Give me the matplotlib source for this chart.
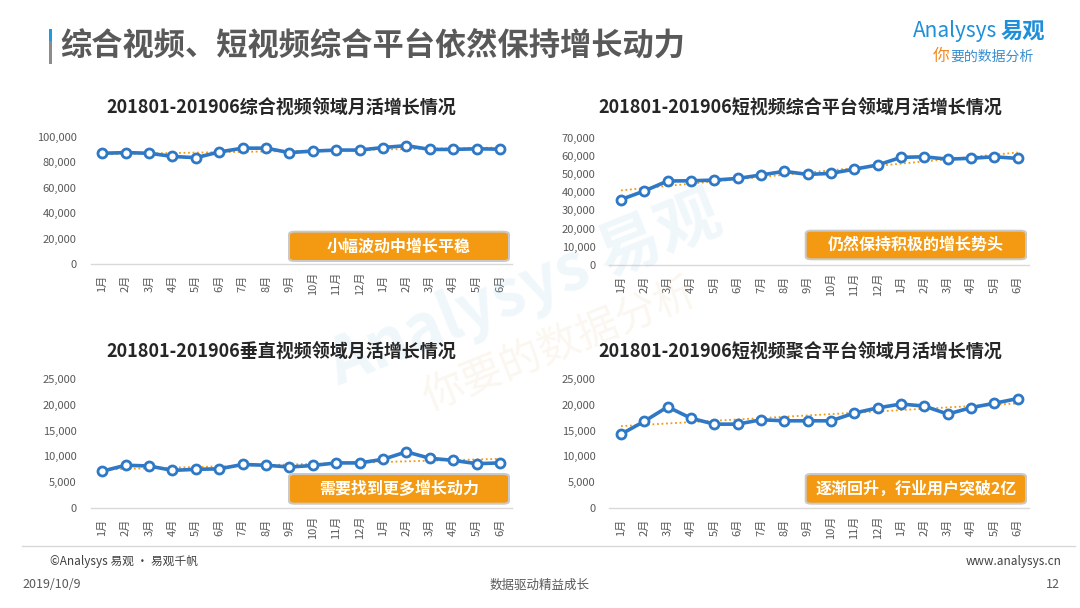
import numpy as np
import matplotlib
matplotlib.use("Agg")
import matplotlib.pyplot as plt
from matplotlib.patches import FancyBboxPatch
from matplotlib.ticker import FuncFormatter

plt.rcParams['font.family'] = ['Noto Sans CJK SC', 'DejaVu Sans']

# ---------------- data ----------------
months = ["1月", "2月", "3月", "4月", "5月", "6月", "7月", "8月", "9月", "10月", "11月", "12月",
          "1月", "2月", "3月", "4月", "5月", "6月"]

comprehensive = [87000, 87500, 87000, 84500, 83500, 88000, 91000, 91000, 87500, 88700,
                 89500, 89500, 91500, 93000, 90000, 90000, 90500, 90200]
short_comp = [36000, 40700, 46200, 46300, 46700, 47600, 49500, 51500, 49800, 50400,
              52700, 55000, 59200, 59500, 58200, 58700, 59500, 58600]
vertical = [7100, 8250, 8100, 7250, 7450, 7550, 8400, 8250, 7900, 8200,
            8700, 8700, 9400, 10850, 9600, 9200, 8550, 8700]
short_agg = [14300, 16800, 19600, 17400, 16250, 16250, 17100, 16900, 16900, 16900,
             18400, 19400, 20150, 19750, 18200, 19450, 20300, 21200]

titles = ["201801-201906综合视频领域月活增长情况",
          "201801-201906短视频综合平台领域月活增长情况",
          "201801-201906垂直视频领域月活增长情况",
          "201801-201906短视频聚合平台领域月活增长情况"]
notes = ["小幅波动中增长平稳", "仍然保持积极的增长势头", "需要找到更多增长动力", "逐渐回升，行业用户突破2亿"]
ymaxes = [100000, 70000, 25000, 25000]
ysteps = [20000, 10000, 5000, 5000]

W, H = 1080, 608
fig = plt.figure(figsize=(W / 100, H / 100), dpi=100)
fig.patch.set_facecolor("white")

def fx(x):
    return x / W

def fy(y):
    return 1 - y / H

BLUE = "#2E78C6"
ORANGE = "#F39A12"
GREY_TXT = "#595959"

# ---------------- watermark ----------------
fig.text(fx(525), fy(290), "Analysys 易观", fontsize=46, color="#9CCBEA", alpha=0.15,
         rotation=22, ha="center", va="center", fontweight="bold", zorder=0)
fig.text(fx(560), fy(345), "你要的数据分析", fontsize=30, color="#E8C89A", alpha=0.15,
         rotation=22, ha="center", va="center", zorder=0)

# ---------------- axes ----------------
boxes = [(90.6, 511.7, 136.7, 264.0),
         (609.3, 1029.4, 137.7, 265.0),
         (90.6, 511.7, 379.0, 507.7),
         (609.3, 1029.4, 379.0, 508.0)]
title_pos = [(281, 108), (800, 108), (281, 352), (800, 352)]
note_boxes = [(290, 508, 232.7, 260.0),
              (806.7, 1025, 231.7, 258.3),
              (290, 508, 475.0, 502.7),
              (806.7, 1025, 475.0, 502.7)]

series = [comprehensive, short_comp, vertical, short_agg]
fmt = FuncFormatter(lambda v, p: f"{int(v):,}")

for i in range(4):
    l, r, t, b = boxes[i]
    ax = fig.add_axes([fx(l), fy(b), (r - l) / W, (b - t) / H])
    ax.set_facecolor("none")
    vals = np.array(series[i], dtype=float)
    x = np.arange(len(vals))
    k, c = np.polyfit(x, vals, 1)
    ax.plot(x, k * x + c, linestyle=(0, (1, 1.5)), color=ORANGE, lw=1.3, zorder=2)
    ax.plot(x, vals, color=BLUE, lw=2.6, marker="o", markersize=6.5,
            markerfacecolor="white", markeredgecolor=BLUE, markeredgewidth=2.0, zorder=3)
    ax.set_xlim(-0.5, len(vals) - 0.5)
    ax.set_ylim(0, ymaxes[i])
    ax.set_yticks(np.arange(0, ymaxes[i] + 1, ysteps[i]))
    ax.yaxis.set_major_formatter(fmt)
    ax.set_xticks(x)
    ax.set_xticklabels(months, rotation=90, va="center", ha="center")
    for s in ["top", "right", "left"]:
        ax.spines[s].set_visible(False)
    ax.spines["bottom"].set_color("#D9D9D9")
    ax.spines["bottom"].set_linewidth(1.0)
    ax.tick_params(axis="x", length=0, pad=14, labelsize=8, labelcolor=GREY_TXT)
    ax.tick_params(axis="y", length=0, pad=10, labelsize=8, labelcolor=GREY_TXT)

    tx, ty = title_pos[i]
    fig.text(fx(tx), fy(ty), titles[i], fontsize=13, fontweight="bold", color="#262626",
             ha="center", va="center")

    bl, br, bt, bb = note_boxes[i]
    shadow = FancyBboxPatch((fx(bl - 2), fy(bb + 2)), (br - bl + 4) / W, (bb - bt + 4) / H,
                            boxstyle="round,pad=0,rounding_size=0.006",
                            transform=fig.transFigure, facecolor="#C9C9C9",
                            edgecolor="none", zorder=5)
    fig.patches.append(shadow)
    box = FancyBboxPatch((fx(bl), fy(bb)), (br - bl) / W, (bb - bt) / H,
                         boxstyle="round,pad=0,rounding_size=0.004",
                         transform=fig.transFigure, facecolor=ORANGE,
                         edgecolor="none", zorder=6)
    fig.patches.append(box)
    fig.text(fx((bl + br) / 2), fy((bt + bb) / 2), notes[i], fontsize=11.5, fontweight="bold",
             color="white", ha="center", va="center", zorder=7)

# ---------------- header ----------------
fig.patches.append(plt.Rectangle((fx(48.5), fy(41)), 3 / W, 12 / H, transform=fig.transFigure,
                                 facecolor="#1E9BE0", edgecolor="none"))
fig.patches.append(plt.Rectangle((fx(48.5), fy(64)), 3 / W, 23 / H, transform=fig.transFigure,
                                 facecolor="#8C8C8C", edgecolor="none"))
fig.text(fx(60), fy(47), "综合视频、短视频综合平台依然保持增长动力", fontsize=22.5,
         fontweight="bold", color=GREY_TXT, ha="left", va="center")

# logo
fig.text(fx(913), fy(31), "Analysys", fontsize=15, color="#1E8FD8", style="italic",
         ha="left", va="center")
fig.text(fx(1045), fy(31), "易观", fontsize=16, fontweight="bold", color="#1E8FD8",
         ha="right", va="center")
fig.text(fx(933), fy(56), "你", fontsize=12, color="#F08A24", ha="left", va="center")
fig.text(fx(950), fy(57), "要的数据分析", fontsize=10, color="#3A8FCF", ha="left", va="center",
         style="italic")

# ---------------- footer ----------------
fig.add_artist(plt.Line2D([fx(22), fx(1075)], [fy(546), fy(546)], color="#D8D8D8", lw=1.0))
fig.text(fx(50), fy(561), "©Analysys 易观 · 易观千帆", fontsize=8.5, color="#404040",
         ha="left", va="center")
fig.text(fx(1062), fy(561), "www.analysys.cn", fontsize=8.5, color="#404040",
         ha="right", va="center")
fig.text(fx(22), fy(585), "2019/10/9", fontsize=9, color=GREY_TXT, ha="left", va="center")
fig.text(fx(540), fy(585), "数据驱动精益成长", fontsize=9, color=GREY_TXT, ha="center", va="center")
fig.text(fx(1060), fy(585), "12", fontsize=9, color=GREY_TXT, ha="right", va="center")

fig.savefig("out.png", dpi=100, facecolor="white")
